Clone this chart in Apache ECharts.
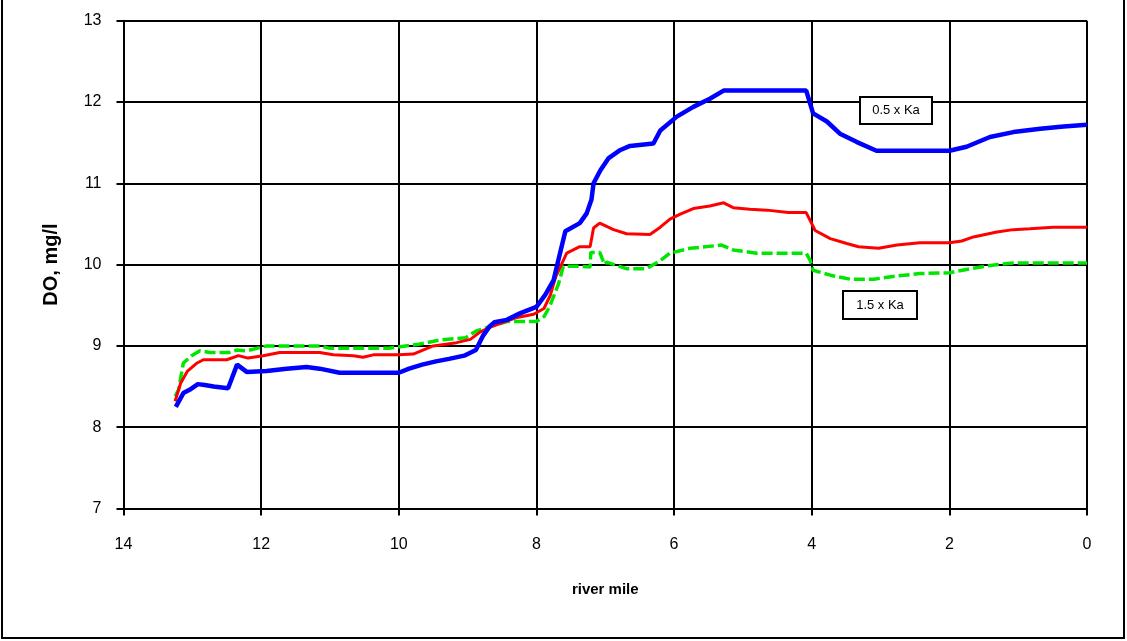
<!DOCTYPE html>
<html>
<head>
<meta charset="utf-8">
<title>DO profile</title>
<script src="https://cdn.jsdelivr.net/npm/echarts@6/dist/echarts.min.js"></script>
<style>
  html, body { margin: 0; padding: 0; background: #fff; }
  #chart { width: 1127px; height: 641px; }
</style>
</head>
<body>
<div id="chart"></div>
<script>
// Dissolved oxygen along the river, [river mile, DO mg/l]
const doHalfKa = [
  [13.24, 8.25], [13.13, 8.42], [13.04, 8.46], [12.92, 8.53], [12.82, 8.52],
  [12.69, 8.50], [12.48, 8.48], [12.35, 8.77], [12.21, 8.68], [11.92, 8.69],
  [11.63, 8.72], [11.34, 8.74], [11.15, 8.72], [10.86, 8.67], [10.00, 8.67],
  [9.85, 8.72], [9.66, 8.77], [9.46, 8.81], [9.27, 8.84], [9.05, 8.88],
  [8.88, 8.95], [8.78, 9.12], [8.68, 9.24], [8.61, 9.29], [8.43, 9.32],
  [8.24, 9.40], [8.00, 9.48], [7.87, 9.63], [7.75, 9.81], [7.70, 9.99],
  [7.58, 10.41], [7.37, 10.51], [7.27, 10.63], [7.20, 10.80], [7.17, 11.00],
  [7.07, 11.16], [6.95, 11.31], [6.78, 11.41], [6.64, 11.46], [6.30, 11.49],
  [6.20, 11.65], [5.96, 11.82], [5.72, 11.94], [5.48, 12.04], [5.28, 12.14],
  [4.08, 12.14], [3.98, 11.86], [3.78, 11.76], [3.59, 11.61], [3.35, 11.51],
  [3.06, 11.40], [2.00, 11.40], [1.75, 11.45], [1.41, 11.57], [1.07, 11.63],
  [0.68, 11.67], [0.34, 11.70], [0.00, 11.72]
];

const doBaseKa = [
  [13.25, 8.32], [13.17, 8.54], [13.07, 8.69], [12.93, 8.79], [12.84, 8.83],
  [12.50, 8.83], [12.33, 8.88], [12.19, 8.85], [11.97, 8.88], [11.73, 8.92],
  [11.15, 8.92], [10.95, 8.89], [10.66, 8.88], [10.52, 8.86], [10.37, 8.89],
  [10.00, 8.89], [9.79, 8.90], [9.50, 9.00], [9.16, 9.04], [8.96, 9.08],
  [8.82, 9.17], [8.67, 9.23], [8.48, 9.29], [8.28, 9.35], [8.04, 9.39],
  [7.89, 9.46], [7.80, 9.62], [7.72, 9.85], [7.56, 10.14], [7.37, 10.22],
  [7.22, 10.22], [7.17, 10.45], [7.08, 10.51], [6.88, 10.43], [6.69, 10.38],
  [6.35, 10.37], [6.20, 10.46], [6.06, 10.56], [5.91, 10.62], [5.72, 10.69],
  [5.48, 10.72], [5.28, 10.76], [5.14, 10.70], [4.90, 10.68], [4.65, 10.67],
  [4.34, 10.64], [4.08, 10.64], [3.95, 10.42], [3.73, 10.32], [3.49, 10.26],
  [3.32, 10.22], [3.03, 10.20], [2.76, 10.24], [2.43, 10.27], [2.00, 10.27],
  [1.82, 10.29], [1.65, 10.34], [1.31, 10.40], [1.07, 10.43], [0.83, 10.44],
  [0.49, 10.46], [0.00, 10.46]
];

const doOneHalfKa = [
  [13.25, 8.38], [13.20, 8.46], [13.13, 8.79], [13.01, 8.88], [12.89, 8.94],
  [12.75, 8.92], [12.46, 8.92], [12.35, 8.95], [12.21, 8.94], [11.92, 9.00],
  [11.15, 9.00], [11.00, 8.97], [10.15, 8.97], [9.71, 9.02], [9.42, 9.07],
  [9.03, 9.10], [8.88, 9.18], [8.67, 9.24], [8.43, 9.30], [8.00, 9.30],
  [7.89, 9.36], [7.81, 9.48], [7.68, 9.76], [7.61, 9.98], [7.37, 9.98],
  [7.22, 9.97], [7.21, 10.15], [7.08, 10.15], [7.01, 10.00], [6.98, 10.03],
  [6.69, 9.95], [6.40, 9.95], [6.20, 10.05], [6.06, 10.14], [5.77, 10.20],
  [5.31, 10.24], [5.14, 10.18], [4.80, 10.14], [4.08, 10.14], [4.02, 10.05],
  [3.98, 9.93], [3.73, 9.87], [3.44, 9.82], [3.10, 9.82], [2.76, 9.86],
  [2.43, 9.89], [2.00, 9.90], [1.75, 9.94], [1.41, 9.99], [1.07, 10.02],
  [0.00, 10.02]
];

const seriesNames = ['0.5 x Ka', '1.0 x Ka', '1.5 x Ka'];
const xTitle = 'river mile';
const yTitle = 'DO, mg/l';

const FONT = '"Liberation Sans", Arial, sans-serif';

const chart = echarts.init(document.getElementById('chart'), null, { renderer: 'canvas' });

function boxedLabel(text, cx, cy, w, h) {
  return {
    type: 'group',
    z: 100,
    children: [
      {
        type: 'rect',
        shape: { x: cx - w / 2, y: cy - h / 2, width: w, height: h },
        style: { fill: '#fff', stroke: '#000', lineWidth: 2 },
        z: 100
      },
      {
        type: 'text',
        style: {
          text: text, x: cx, y: cy, align: 'center', verticalAlign: 'middle',
          font: '13px ' + FONT, fill: '#000'
        },
        z: 101
      }
    ]
  };
}

chart.setOption({
  animation: false,
  backgroundColor: '#fff',
  grid: { left: 123.5, right: 40, top: 20.7, bottom: 132.5, containLabel: false },
  xAxis: {
    type: 'value', inverse: true, min: 0, max: 14, interval: 2,
    name: xTitle, nameLocation: 'middle', nameGap: 74,
    nameTextStyle: { fontFamily: FONT, fontSize: 15, fontWeight: 'bold', color: '#000' },
    axisLine: { show: true, onZero: false, lineStyle: { color: '#000', width: 2 } },
    axisTick: { show: true, length: 7, lineStyle: { color: '#000', width: 2 } },
    axisLabel: { margin: 28, fontFamily: FONT, fontSize: 16, color: '#000' },
    splitLine: { show: true, lineStyle: { color: '#000', width: 2 } }
  },
  yAxis: {
    type: 'value', min: 7, max: 13, interval: 1,
    name: yTitle, nameLocation: 'middle', nameGap: 62, nameRotate: 90,
    nameTextStyle: { fontFamily: FONT, fontSize: 20, fontWeight: 'bold', color: '#000' },
    axisLine: { show: true, onZero: false, lineStyle: { color: '#000', width: 2 } },
    axisTick: { show: true, length: 7, lineStyle: { color: '#000', width: 2 } },
    axisLabel: { margin: 22, fontFamily: FONT, fontSize: 16, color: '#000' },
    splitLine: { show: true, lineStyle: { color: '#000', width: 2 } }
  },
  series: [
    {
      name: seriesNames[2], type: 'line', data: doOneHalfKa, showSymbol: false, z: 3,
      lineStyle: { color: '#00e600', width: 3.5, type: [11, 4] }
    },
    {
      name: seriesNames[1], type: 'line', data: doBaseKa, showSymbol: false, z: 4,
      lineStyle: { color: '#ff0000', width: 3 }
    },
    {
      name: seriesNames[0], type: 'line', data: doHalfKa, showSymbol: false, z: 5,
      lineStyle: { color: '#0000ff', width: 4.5 }
    }
  ],
  graphic: [
    {
      type: 'rect', z: 50, silent: true,
      shape: { x: 2, y: -2, width: 1122, height: 640 },
      style: { fill: 'none', stroke: '#000', lineWidth: 2 }
    },
    boxedLabel(seriesNames[0], 896, 110.5, 72, 27),
    boxedLabel(seriesNames[2], 880, 305, 74, 28)
  ]
});
</script>
</body>
</html>
